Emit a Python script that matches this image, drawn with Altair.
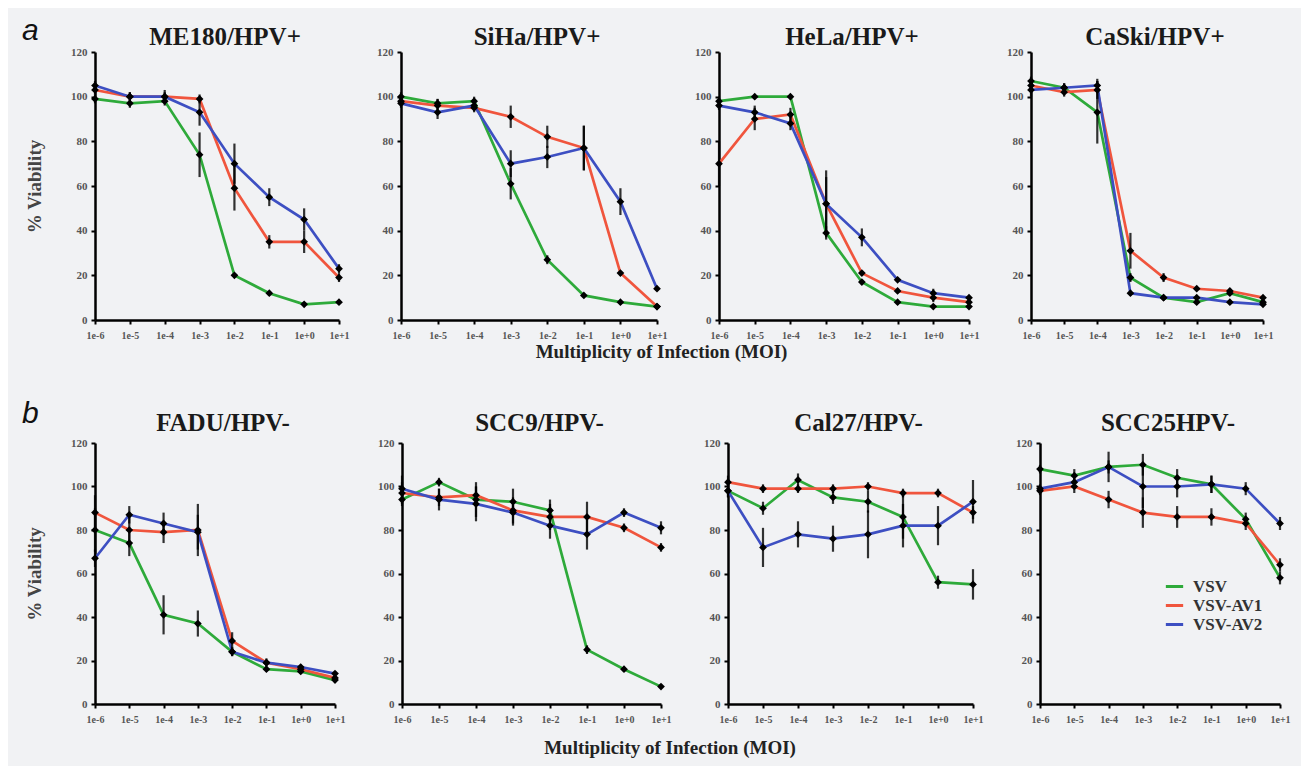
import altair as alt
import pandas as pd

cats = ["1e-6", "1e-5", "1e-4", "1e-3", "1e-2", "1e-1", "1e+0", "1e+1"]
series = ["VSV", "VSV-AV1", "VSV-AV2"]
colors = ["#2eaa3a", "#f0553d", "#3d4fc2"]

panels_a = ["ME180/HPV+", "SiHa/HPV+", "HeLa/HPV+", "CaSki/HPV+"]
panels_b = ["FADU/HPV-", "SCC9/HPV-", "Cal27/HPV-", "SCC25HPV-"]

# values: (VSV, VSV-AV1, VSV-AV2) and their error bars
me180_vsv = [99, 97, 98, 74, 20, 12, 7, 8]
me180_vsv_err = [2, 2, 2, 10, 1, 1, 1, 1]
me180_av1 = [103, 100, 100, 99, 59, 35, 35, 19]
me180_av1_err = [2, 2, 3, 2, 10, 3, 5, 2]
me180_av2 = [105, 100, 100, 93, 70, 55, 45, 23]
me180_av2_err = [2, 2, 2, 6, 9, 4, 5, 2]

siha_vsv = [100, 97, 98, 61, 27, 11, 8, 6]
siha_vsv_err = [2, 2, 2, 7, 2, 1, 1, 1]
siha_av1 = [98, 96, 95, 91, 82, 77, 21, 6]
siha_av1_err = [2, 3, 2, 5, 5, 10, 1, 1]
siha_av2 = [97, 93, 96, 70, 73, 77, 53, 14]
siha_av2_err = [2, 3, 2, 6, 5, 10, 6, 1]

hela_vsv = [98, 100, 100, 39, 17, 8, 6, 6]
hela_vsv_err = [2, 1, 1, 3, 1, 1, 1, 1]
hela_av1 = [70, 90, 92, 52, 21, 13, 10, 8]
hela_av1_err = [10, 5, 3, 15, 1, 1, 2, 1]
hela_av2 = [96, 93, 88, 52, 37, 18, 12, 10]
hela_av2_err = [2, 3, 3, 12, 4, 1, 2, 1]

caski_vsv = [107, 104, 93, 19, 10, 8, 12, 8]
caski_vsv_err = [2, 2, 14, 2, 1, 1, 1, 1]
caski_av1 = [105, 102, 103, 31, 19, 14, 13, 10]
caski_av1_err = [3, 2, 4, 8, 2, 1, 1, 1]
caski_av2 = [103, 104, 105, 12, 10, 10, 8, 7]
caski_av2_err = [3, 2, 3, 1, 1, 1, 1, 1]

fadu_vsv = [80, 74, 41, 37, 24, 16, 15, 11]
fadu_vsv_err = [10, 6, 9, 6, 2, 1, 1, 1]
fadu_av1 = [88, 80, 79, 80, 29, 19, 16, 12]
fadu_av1_err = [8, 8, 5, 12, 4, 2, 2, 2]
fadu_av2 = [67, 87, 83, 79, 24, 19, 17, 14]
fadu_av2_err = [4, 4, 5, 8, 2, 1, 1, 1]

scc9_vsv = [94, 102, 94, 93, 89, 25, 16, 8]
scc9_vsv_err = [3, 2, 8, 6, 5, 2, 1, 1]
scc9_av1 = [97, 95, 96, 89, 86, 86, 81, 72]
scc9_av1_err = [5, 4, 4, 6, 6, 7, 2, 2]
scc9_av2 = [99, 94, 92, 88, 82, 78, 88, 81]
scc9_av2_err = [6, 5, 8, 6, 6, 7, 2, 3]

cal27_vsv = [98, 90, 103, 95, 93, 86, 56, 55]
cal27_vsv_err = [3, 3, 3, 3, 5, 10, 3, 7]
cal27_av1 = [102, 99, 99, 99, 100, 97, 97, 88]
cal27_av1_err = [3, 2, 2, 2, 2, 2, 2, 3]
cal27_av2 = [98, 72, 78, 76, 78, 82, 82, 93]
cal27_av2_err = [3, 9, 6, 6, 11, 10, 9, 10]

scc25_vsv = [108, 105, 109, 110, 104, 101, 85, 58]
scc25_vsv_err = [2, 3, 3, 5, 4, 4, 3, 3]
scc25_av1 = [98, 100, 94, 88, 86, 86, 83, 64]
scc25_av1_err = [2, 3, 4, 7, 5, 4, 3, 3]
scc25_av2 = [99, 102, 109, 100, 100, 101, 99, 83]
scc25_av2_err = [2, 3, 7, 10, 5, 4, 3, 3]

table = {
    "ME180/HPV+": [(me180_vsv, me180_vsv_err), (me180_av1, me180_av1_err), (me180_av2, me180_av2_err)],
    "SiHa/HPV+": [(siha_vsv, siha_vsv_err), (siha_av1, siha_av1_err), (siha_av2, siha_av2_err)],
    "HeLa/HPV+": [(hela_vsv, hela_vsv_err), (hela_av1, hela_av1_err), (hela_av2, hela_av2_err)],
    "CaSki/HPV+": [(caski_vsv, caski_vsv_err), (caski_av1, caski_av1_err), (caski_av2, caski_av2_err)],
    "FADU/HPV-": [(fadu_vsv, fadu_vsv_err), (fadu_av1, fadu_av1_err), (fadu_av2, fadu_av2_err)],
    "SCC9/HPV-": [(scc9_vsv, scc9_vsv_err), (scc9_av1, scc9_av1_err), (scc9_av2, scc9_av2_err)],
    "Cal27/HPV-": [(cal27_vsv, cal27_vsv_err), (cal27_av1, cal27_av1_err), (cal27_av2, cal27_av2_err)],
    "SCC25HPV-": [(scc25_vsv, scc25_vsv_err), (scc25_av1, scc25_av1_err), (scc25_av2, scc25_av2_err)],
}

rows = []
for pname, lst in table.items():
    for s, (vals, errs) in zip(series, lst):
        for c, v, e in zip(cats, vals, errs):
            rows.append({"panel": pname, "series": s, "moi": c, "value": v,
                         "lo": v - e, "hi": v + e})
df = pd.DataFrame(rows)

SERIF = "Liberation Serif"
LETTER_SIZE = 30


def panel(name, width, height, first=False, legend=False, letter=None,
          letter_y=-21, title_dy=0):
    d = df[df.panel == name]
    x = alt.X("moi:N", sort=cats, scale=alt.Scale(type="point", padding=0),
              axis=alt.Axis(title=None, labelAngle=0, labelFont=SERIF,
                            labelFontWeight="bold"))
    yaxis = alt.Axis(values=[0, 20, 40, 60, 80, 100, 120], labelFont=SERIF,
                     labelFontWeight="bold", titleFont=SERIF, titleFontWeight="bold",
                     title="% Viability" if first else None)
    y = alt.Y("value:Q", scale=alt.Scale(domain=[0, 120], nice=False), axis=yaxis)
    if legend:
        leg = alt.Legend(title=None, orient="none", legendX=124, legendY=133,
                         symbolType="stroke", symbolStrokeWidth=3, symbolSize=300,
                         labelFont=SERIF, labelFontWeight="bold", labelFontSize=17,
                         labelColor="#333", rowPadding=0, labelOffset=8)
    else:
        leg = None
    color = alt.Color("series:N", scale=alt.Scale(domain=series, range=colors), legend=leg)
    base = alt.Chart(d)
    lines = base.mark_line(strokeWidth=2.7).encode(x=x, y=y, color=color, detail="series:N")
    bars = base.mark_rule(color="black", strokeWidth=2.2, opacity=0.8).encode(
        x=x, y=alt.Y("lo:Q", scale=alt.Scale(domain=[0, 120], nice=False)), y2="hi:Q")
    pts = base.mark_point(shape="diamond", filled=True, color="black", opacity=1, size=60).encode(x=x, y=y)
    layers = [lines, bars, pts]
    dy = title_dy
    if letter:
        lab = alt.Chart(pd.DataFrame({"label": [letter]})).mark_text(
            font="Liberation Sans", fontStyle="italic", fontSize=LETTER_SIZE, align="left",
            baseline="middle", color="#111").encode(
            text="label:N", x=alt.value(-73), y=alt.value(letter_y))
        layers.append(lab)
        # compensate for the letter raising the panel's top bound
        dy = title_dy + (-(letter_y - LETTER_SIZE / 2) - 6)
    return alt.layer(*layers).properties(
        width=width, height=height,
        title=alt.TitleParams(name, font=SERIF, fontSize=25, fontWeight="bold",
                              color="#1a1a1a", offset=0, dx=8, dy=dy))


def moi_title(offset):
    return alt.TitleParams("Multiplicity of Infection (MOI)", orient="bottom",
                           anchor="middle", font=SERIF, fontSize=19,
                           fontWeight="bold", color="#222", dx=14, offset=offset)


row_a = alt.hconcat(
    panel(panels_a[0], 244, 268, first=True, letter="a", letter_y=-21, title_dy=4),
    panel(panels_a[1], 256, 268, title_dy=4),
    panel(panels_a[2], 250, 268, title_dy=4),
    panel(panels_a[3], 232, 268, title_dy=4),
    spacing=62, bounds="flush", title=moi_title(3),
).resolve_legend(color="independent")

row_b = alt.hconcat(
    panel(panels_b[0], 240, 261, first=True, letter="b", letter_y=-29, title_dy=-1),
    panel(panels_b[1], 259, 261, title_dy=-1),
    panel(panels_b[2], 245, 261, title_dy=-1),
    panel(panels_b[3], 240, 261, legend=True, title_dy=-1),
    spacing=67, bounds="flush", title=moi_title(15),
).resolve_legend(color="independent")

chart = alt.vconcat(row_a, row_b, spacing=37).resolve_legend(
    color="independent"
).properties(
    padding={"left": 14, "top": 8, "right": 10, "bottom": 8},
    background="#f1f2f4",
).configure_view(stroke=None).configure_axis(
    grid=False, domainColor="black", domainWidth=2.5, tickColor="black",
    tickWidth=2, tickSize=4, labelFont=SERIF, labelFontWeight="bold",
    labelColor="#555", titleFont=SERIF, titleFontWeight="bold", titleColor="#444",
    titleFontSize=19,
).configure_axisX(labelFontSize=10, labelPadding=6).configure_axisY(
    labelFontSize=11, labelPadding=4, titlePadding=26
)

chart.save("out.html", embed_options={"renderer": "svg", "actions": False})
